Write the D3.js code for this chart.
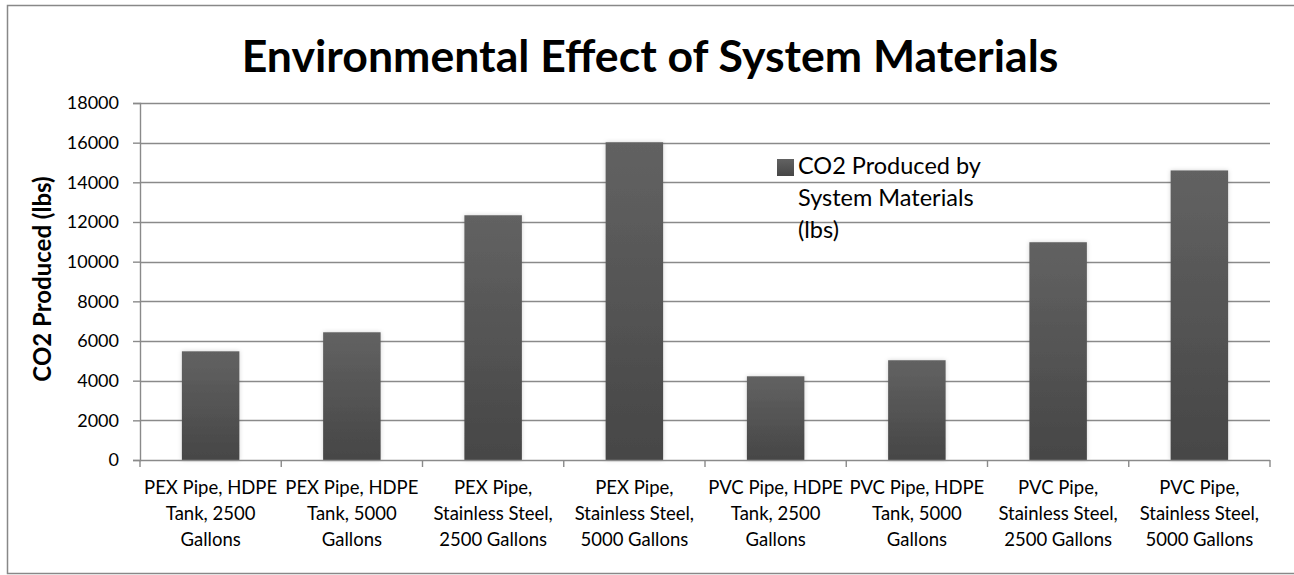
<!DOCTYPE html>
<html>
<head>
<meta charset="utf-8">
<script src="https://cdn.jsdelivr.net/npm/d3@7"></script>
<style>
  html, body { margin: 0; padding: 0; background: #fff; }
  svg { display: block; }
  text { font-family: Lato, "Liberation Sans", sans-serif; fill: #000; }
</style>
</head>
<body>
<svg id="chart" width="1294" height="575"></svg>
<script>
// ---- data ----
const categories = [
  "PEX Pipe, HDPE Tank, 2500 Gallons",
  "PEX Pipe, HDPE Tank, 5000 Gallons",
  "PEX Pipe, Stainless Steel, 2500 Gallons",
  "PEX Pipe, Stainless Steel, 5000 Gallons",
  "PVC Pipe, HDPE Tank, 2500 Gallons",
  "PVC Pipe, HDPE Tank, 5000 Gallons",
  "PVC Pipe, Stainless Steel, 2500 Gallons",
  "PVC Pipe, Stainless Steel, 5000 Gallons"
];
const categoryLines = [
  ["PEX Pipe, HDPE", "Tank, 2500", "Gallons"],
  ["PEX Pipe, HDPE", "Tank, 5000", "Gallons"],
  ["PEX Pipe,", "Stainless Steel,", "2500 Gallons"],
  ["PEX Pipe,", "Stainless Steel,", "5000 Gallons"],
  ["PVC Pipe, HDPE", "Tank, 2500", "Gallons"],
  ["PVC Pipe, HDPE", "Tank, 5000", "Gallons"],
  ["PVC Pipe,", "Stainless Steel,", "2500 Gallons"],
  ["PVC Pipe,", "Stainless Steel,", "5000 Gallons"]
];
const co2Values = [5480, 6440, 12340, 16020, 4220, 5030, 10980, 14600];
const yTicks = [0, 2000, 4000, 6000, 8000, 10000, 12000, 14000, 16000, 18000];
const seriesName = ["CO2 Produced by", "System Materials", "(lbs)"];
const chartTitle = "Environmental Effect of System Materials";
const yAxisTitle = "CO2 Produced (lbs)";

// ---- layout ----
const svg = d3.select("#chart");
const plot = { left: 140, right: 1270, top: 103, bottom: 460 };
const gridColor = "#8a8a8a";

const defs = svg.append("defs");
const grad = defs.append("linearGradient").attr("id", "barGrad")
  .attr("x1", 0).attr("y1", 0).attr("x2", 0).attr("y2", 1);
grad.append("stop").attr("offset", "0%").attr("stop-color", "#626262");
grad.append("stop").attr("offset", "100%").attr("stop-color", "#464646");
const flt = defs.append("filter").attr("id", "shadow")
  .attr("x", "-20%").attr("y", "-5%").attr("width", "140%").attr("height", "110%");
flt.append("feDropShadow").attr("dx", 0).attr("dy", 0).attr("stdDeviation", 2)
  .attr("flood-color", "#000").attr("flood-opacity", 0.18);

// outer border (right edge lies outside the picture)
svg.append("rect")
  .attr("x", 7.5).attr("y", 5.5).attr("width", 1300).attr("height", 568)
  .attr("fill", "none").attr("stroke", "#888").attr("stroke-width", 1.5);

const x = d3.scaleBand().domain(categories)
  .range([plot.left, plot.right]).paddingInner(0.593).paddingOuter(0.2965);
const y = d3.scaleLinear().domain([0, 18000]).range([plot.bottom, plot.top]);

// gridlines
svg.append("g").selectAll("line").data(yTicks.filter(d => d > 0)).join("line")
  .attr("x1", plot.left).attr("x2", plot.right)
  .attr("y1", d => Math.round(y(d)) + 0.5).attr("y2", d => Math.round(y(d)) + 0.5)
  .attr("stroke", gridColor).attr("stroke-width", 1.4);

// y axis
const yAxis = svg.append("g")
  .attr("transform", `translate(${plot.left},0)`)
  .call(d3.axisLeft(y).tickValues(yTicks).tickSize(7).tickPadding(14).tickFormat(d3.format("d")));
yAxis.select(".domain").attr("stroke", gridColor).attr("stroke-width", 1.4);
yAxis.selectAll(".tick line").attr("stroke", gridColor).attr("stroke-width", 1.4);
yAxis.selectAll(".tick text").style("font-family", "Lato").style("font-size", "18px").attr("fill", "#000");

// bars
svg.append("g").selectAll("rect").data(categories).join("rect")
  .attr("x", d => x(d))
  .attr("width", x.bandwidth())
  .attr("y", (d, i) => y(co2Values[i]))
  .attr("height", (d, i) => y(0) - y(co2Values[i]))
  .attr("fill", "url(#barGrad)")
  .attr("filter", "url(#shadow)");

// x axis line and boundary ticks
const step = x.step();
svg.append("line")
  .attr("x1", plot.left).attr("x2", plot.right)
  .attr("y1", plot.bottom + 0.5).attr("y2", plot.bottom + 0.5)
  .attr("stroke", gridColor).attr("stroke-width", 1.4);
const boundaries = d3.range(categories.length + 1);
svg.append("g").selectAll("line").data(boundaries).join("line")
  .attr("x1", i => plot.left + i * step).attr("x2", i => plot.left + i * step)
  .attr("y1", plot.bottom).attr("y2", plot.bottom + 7)
  .attr("stroke", gridColor).attr("stroke-width", 1.4);

// x labels
const xl = svg.append("g").selectAll("text").data(categories).join("text")
  .attr("text-anchor", "middle")
  .style("font-size", "18.5px");
xl.each(function (d, i) {
  const t = d3.select(this);
  const cx = x(d) + x.bandwidth() / 2;
  categoryLines[i].forEach((line, j) => {
    t.append("tspan").attr("x", cx).attr("y", 494 + j * 26).text(line);
  });
});

// y axis title
svg.append("text")
  .attr("transform", "translate(51,279) rotate(-90)")
  .attr("text-anchor", "middle")
  .style("font-size", "24px").style("font-weight", "bold")
  .text(yAxisTitle);

// chart title
svg.append("text")
  .attr("x", 650).attr("y", 72)
  .attr("text-anchor", "middle")
  .style("font-size", "44.6px").style("font-weight", "bold")
  .text(chartTitle);

// legend
const lg = svg.append("g");
lg.append("rect").attr("x", 777).attr("y", 159).attr("width", 17).attr("height", 17)
  .attr("fill", "url(#barGrad)");
const lt = lg.append("text").style("font-size", "23.5px");
seriesName.forEach((line, j) => {
  lt.append("tspan").attr("x", 798).attr("y", 174 + j * 32).text(line);
});
</script>
</body>
</html>
